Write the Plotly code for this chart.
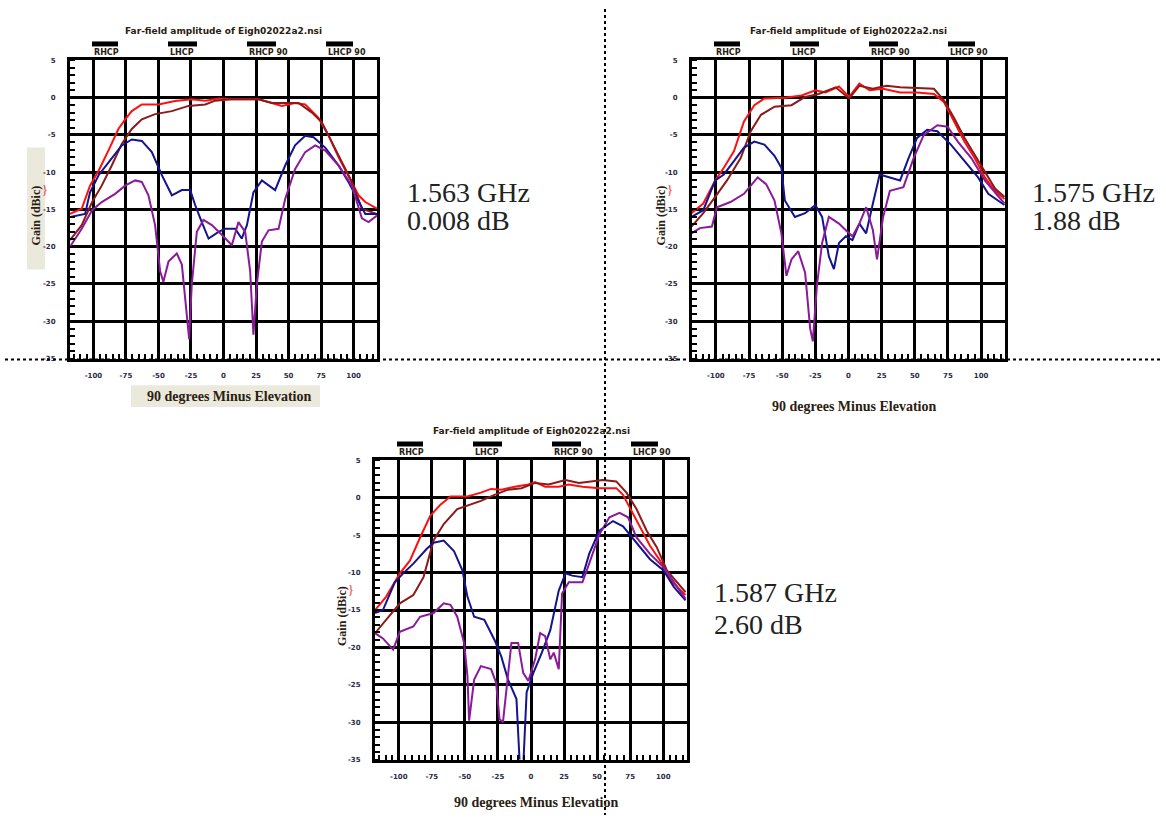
import plotly.graph_objects as go

# ---------------- data ----------------
frequencies = ["1.563 GHz", "1.575 GHz", "1.587 GHz"]
gain_notes = ["0.008 dB", "1.88 dB", "2.60 dB"]
legend_names = ["RHCP", "LHCP", "RHCP 90", "LHCP 90"]
x_tick_vals = [-100, -75, -50, -25, 0, 25, 50, 75, 100]
x_tick_text = ["-100", "-75", "-50", "-25", "0", "25", "50", "75", "100"]
y_tick_vals = [5, 0, -5, -10, -15, -20, -25, -30, -35]
y_tick_text = ["5", "0", "-5", "-10", "-15", "-20", "-25", "-30", "-35"]

# Panel 1 (1.563 GHz)
p1_rhcp_x = [-118, -109, -102.6, -96, -88.5, -80.8, -75.6, -70.5, -62.8, -50, -37.2, -24.4, -14, -3.8, 6.4, 16.7, 26.9, 37.2, 44.9, 55, 62.8, 73, 80.8, 88.5, 96, 103.8, 109, 118]
p1_rhcp_y = [-15.6, -14.9, -11.8, -9.8, -7.1, -4.2, -2.9, -1.8, -0.9, -0.9, -0.44, -0.2, -0.4, -0.1, -0.2, -0.2, -0.2, -0.7, -1.1, -0.7, -0.9, -2.7, -5.1, -8.0, -10.4, -13.1, -14.0, -14.9]
p1_rhcp90_x = [-118, -109, -101, -93.6, -85.9, -78.2, -70.5, -62.8, -52.6, -39.7, -26.9, -14, -6.4, 6.4, 26.9, 37.2, 57.7, 68, 75.6, 83.3, 91, 98.7, 106.4, 118]
p1_rhcp90_y = [-19.1, -17.1, -14.0, -11.8, -9.1, -6.2, -4.2, -2.9, -2.2, -1.8, -1.1, -0.9, -0.4, -0.2, -0.2, -0.7, -0.7, -2.0, -3.3, -6.0, -8.7, -11.3, -14.9, -15.6]
p1_lhcp_x = [-118, -106.4, -102.6, -96, -88.5, -78.2, -70.5, -62.8, -55.1, -47.4, -39.7, -32, -25.6, -21.8, -16.7, -11.5, -3.8, 1.3, 9, 14, 18, 23, 29.5, 39.7, 47.4, 55, 62.8, 69.2, 78.2, 88.5, 96, 103.8, 109, 118]
p1_lhcp_y = [-16.0, -15.6, -12.7, -10.4, -8.7, -6.4, -5.6, -5.8, -7.3, -10.4, -13.1, -12.4, -12.4, -14.4, -16.7, -18.9, -18.0, -17.6, -17.6, -18.9, -17.1, -12.7, -11.1, -12.4, -9.1, -6.4, -5.1, -5.3, -6.7, -9.1, -11.3, -14.0, -15.6, -15.6]
p1_lhcp90_x = [-118, -109, -101, -93.6, -83.3, -75.6, -67.9, -62.8, -57.7, -52.6, -48.7, -46.2, -42.3, -35.9, -32, -28.2, -26.4, -24.4, -20.5, -15.4, -9, -1.3, 6.4, 11.5, 16.7, 20.5, 23, 25.6, 29.5, 34.6, 42.3, 47.4, 55, 62.8, 70.5, 78.2, 88.5, 98.7, 106.4, 111.5, 118]
p1_lhcp90_y = [-20.0, -17.6, -15.1, -14.0, -12.9, -11.8, -11.1, -11.3, -13.1, -17.1, -23.3, -24.7, -22.0, -20.9, -22.4, -29.6, -32.4, -25.1, -18.0, -16.4, -17.1, -18.4, -19.8, -16.7, -18.0, -23.3, -31.8, -25.1, -19.3, -17.8, -17.6, -13.6, -9.6, -7.3, -6.4, -7.1, -9.1, -11.8, -16.2, -16.7, -15.8]

# Panel 2 (1.575 GHz)
p2_rhcp_x = [-118.4, -109.5, -100.5, -94, -86.4, -78.8, -71, -63.4, -48, -35.3, -25, -17.4, -7.2, 0.5, 8.2, 15.9, 26.1, 38.9, 51.7, 64.4, 72.1, 79.8, 87.5, 95.1, 102.8, 110.5, 117.6]
p2_rhcp_y = [-15.5, -14.2, -11.1, -9.4, -7.2, -3.2, -1.0, -0.1, 0.0, 0.3, 1.0, 0.7, 1.5, 0.1, 1.9, 1.0, 1.2, 0.7, 0.7, 0.5, -0.6, -3.2, -5.9, -8.1, -10.7, -12.5, -13.6]
p2_rhcp90_x = [-118.4, -109.5, -100.5, -91.6, -81.3, -73.7, -66, -55.8, -43, -32.7, -22.5, -9.7, 0.5, 8.2, 18.4, 28.6, 38.9, 54.2, 64.4, 72.1, 79.8, 87.5, 95.1, 102.8, 110.5, 117.6]
p2_rhcp90_y = [-17.3, -15.5, -13.3, -11.1, -8.1, -4.5, -2.3, -1.2, -1.0, 0.1, 0.5, 1.4, -0.1, 1.6, 1.2, 1.6, 1.4, 1.3, 1.2, -0.4, -2.8, -5.4, -7.6, -9.8, -12.2, -13.3]
p2_lhcp_x = [-118.4, -109.5, -100.5, -94, -86.4, -78.8, -71, -63.4, -55.8, -50.6, -48, -40.4, -32.7, -25, -19.9, -14.8, -11, -7.2, -2, 3, 8.2, 13.3, 18.4, 23.5, 31.2, 38.9, 45.3, 51.7, 59.3, 67, 77.2, 87.5, 97.7, 105.4, 117.6]
p2_lhcp_y = [-16.0, -15.1, -11.1, -10.3, -8.5, -6.7, -5.9, -6.3, -7.8, -9.4, -13.8, -16.0, -15.5, -14.4, -16.0, -21.3, -23.0, -19.5, -18.6, -19.1, -16.9, -18.2, -14.2, -10.3, -10.7, -11.1, -8.1, -5.4, -4.3, -4.5, -6.3, -8.5, -10.7, -12.9, -14.4]
p2_lhcp90_x = [-118.4, -112, -103, -99.2, -89, -78.8, -68.5, -62.1, -55.8, -50.6, -46.8, -43, -37.9, -32.7, -28.9, -26.9, -23.8, -19.9, -14.8, -7.2, -2, 3, 8.2, 13.3, 18.4, 21.5, 26.1, 31.2, 41.4, 49.1, 56.8, 67, 74.7, 82.4, 92.6, 102.8, 117.6]
p2_lhcp90_y = [-18.2, -17.5, -17.3, -14.7, -14.0, -12.9, -10.7, -11.6, -13.8, -18.2, -23.9, -21.7, -20.6, -23.5, -31.0, -32.7, -25.2, -19.5, -16.0, -16.9, -17.8, -18.6, -16.9, -14.7, -17.8, -21.7, -16.0, -12.5, -12.0, -8.1, -5.0, -3.7, -3.9, -5.9, -8.1, -11.1, -14.2]

# Panel 3 (1.587 GHz)
p3_rhcp_x = [-118, -109.5, -99.2, -91.6, -83.9, -76.2, -68.5, -60.9, -48.1, -37.9, -30.2, -22.5, -12.3, -2, 3.1, 10.7, 21, 28.6, 38.9, 51.7, 64.5, 69.6, 74.7, 82.4, 90, 97.7, 105.4, 116.9]
p3_rhcp_y = [-15.0, -13.2, -10.1, -8.4, -5.3, -2.4, -0.9, 0.2, 0.2, 0.7, 1.2, 1.1, 1.5, 1.8, 2.1, 1.5, 1.5, 1.8, 1.5, 1.3, 1.3, 0.4, -1.3, -3.8, -6.4, -8.4, -11.0, -13.0]
p3_rhcp90_x = [-118, -109.5, -99.2, -89, -81.3, -73.7, -66, -55.8, -45.5, -37.9, -27.6, -17.4, -7.2, 3.1, 13.3, 26.1, 36.3, 46.5, 54.2, 64.5, 72.2, 79.8, 87.5, 95.1, 102.8, 116.9]
p3_rhcp90_y = [-18.1, -16.3, -14.1, -13.0, -10.6, -5.7, -3.5, -1.5, -0.9, -0.4, 0.4, 1.1, 1.3, 2.0, 1.8, 2.4, 2.0, 2.2, 2.4, 2.2, 0.7, -1.5, -4.4, -6.6, -9.7, -12.6]
p3_lhcp_x = [-118, -112, -103, -96.7, -89, -78.8, -73.7, -66, -58.3, -51.9, -48.1, -43, -35.3, -27.6, -22.5, -17.4, -11, -8.4, -5.9, -3.3, 1.8, 8.2, 14.6, 21, 26.1, 31.2, 38.9, 44, 51.7, 62, 69.6, 79.8, 90, 100.3, 108, 116.9]
p3_lhcp_y = [-15.4, -15.0, -11.3, -10.1, -8.8, -6.8, -6.0, -5.7, -7.1, -9.7, -13.2, -15.9, -16.3, -19.0, -21.2, -24.3, -26.9, -36.0, -36.0, -26.0, -23.4, -20.7, -17.7, -12.4, -10.1, -10.4, -10.6, -7.5, -4.4, -3.1, -3.8, -6.0, -8.2, -9.7, -11.9, -13.7]
p3_lhcp90_x = [-118, -112, -104.3, -99.2, -89, -83.9, -73.7, -66, -60.9, -55.8, -50.6, -48.1, -46.8, -43, -37.9, -30.2, -26.4, -23.8, -21.2, -18.7, -14.8, -9.7, -5.9, -2, 3.1, 6.9, 10.7, 14.6, 17.2, 21, 23.5, 28.6, 38.9, 44, 51.7, 59.3, 67, 73.4, 79.8, 90, 100.3, 116.9]
p3_lhcp90_y = [-18.1, -18.8, -20.3, -17.9, -17.2, -15.9, -15.4, -14.1, -14.3, -15.9, -19.4, -23.8, -29.8, -24.3, -22.5, -22.9, -24.7, -29.6, -30.0, -26.0, -19.4, -19.4, -23.4, -24.5, -21.6, -18.1, -18.5, -21.6, -20.7, -22.9, -12.8, -11.3, -11.3, -8.8, -4.9, -2.6, -2.0, -2.6, -5.3, -7.5, -9.3, -13.5]

panel_series = [
    [(p1_rhcp_x, p1_rhcp_y), (p1_rhcp90_x, p1_rhcp90_y), (p1_lhcp_x, p1_lhcp_y), (p1_lhcp90_x, p1_lhcp90_y)],
    [(p2_rhcp_x, p2_rhcp_y), (p2_rhcp90_x, p2_rhcp90_y), (p2_lhcp_x, p2_lhcp_y), (p2_lhcp90_x, p2_lhcp90_y)],
    [(p3_rhcp_x, p3_rhcp_y), (p3_rhcp90_x, p3_rhcp90_y), (p3_lhcp_x, p3_lhcp_y), (p3_lhcp90_x, p3_lhcp90_y)],
]
series_names = ["RHCP", "RHCP 90", "LHCP", "LHCP 90"]
series_colors = ["#ff1010", "#8c1a1a", "#14148f", "#8a1a9a"]

# ---------------- layout helpers ----------------
W, H = 1166, 819
def fx(x):
    return x / W
def fy(y):
    return 1 - y / H

# plot boxes in pixels: left, right, top, bottom
boxes = [(70, 377, 57, 358), (692, 1005, 57, 358), (375, 687, 461, 763)]
freq_pos = [(405, 190, 219), (1030, 190, 219), (712, 594, 627)]
ytitle_x = [36, 661, 342]
xtitle_y = [396, 406, 806]

fig = go.Figure()
layout_axes = {}
annotations = []
shapes = []

tick_font = dict(family="DejaVu Sans", size=7, color="#2b2b45", weight="bold")
small_font = dict(family="DejaVu Sans", size=8, color="#2a2010", weight="bold")

for i, (box, series) in enumerate(zip(boxes, panel_series)):
    L, R, T, B = box
    sfx = "" if i == 0 else str(i + 1)
    xa, ya = "x" + sfx, "y" + sfx
    for (xs, ys), name, col in zip(series, series_names, series_colors):
        fig.add_trace(go.Scatter(x=xs, y=ys, mode="lines", name=name,
                                 line=dict(color=col, width=2),
                                 xaxis=xa, yaxis=ya, showlegend=False,
                                 cliponaxis=True))
    layout_axes["xaxis" + sfx] = dict(
        domain=[fx(L), fx(R)], anchor=ya, range=[-118, 118],
        tickvals=x_tick_vals, ticktext=x_tick_text, tickfont=tick_font,
        showgrid=True, gridcolor="black", gridwidth=2.5, zeroline=False,
        showline=True, linecolor="black", linewidth=3, mirror=True,
        ticks="", ticklabelstandoff=8,
        minor=dict(dtick=5, tick0=0, ticks="inside", ticklen=5, tickcolor="black",
                   tickwidth=1.5, showgrid=False),
        fixedrange=True)
    layout_axes["yaxis" + sfx] = dict(
        domain=[fy(B), fy(T)], anchor=xa, range=[-35, 5],
        tickvals=y_tick_vals, ticktext=y_tick_text, tickfont=tick_font,
        showgrid=True, gridcolor="black", gridwidth=2.5, zeroline=False,
        showline=True, linecolor="black", linewidth=3, mirror=True,
        ticks="", ticklabelstandoff=10,
        minor=dict(dtick=1, tick0=0, ticks="inside", ticklen=5, tickcolor="black",
                   tickwidth=1.5, showgrid=False),
        fixedrange=True)

    xd, yd = xa + " domain", ya + " domain"
    width = R - L
    # title above legend
    annotations.append(dict(text="Far-field amplitude of Eigh02022a2.nsi", xref=xd, yref=yd,
                            x=0.5, y=1, yshift=29, xanchor="center", yanchor="middle", showarrow=False,
                            font=dict(family="DejaVu Sans", size=9, color="#2a2010", weight="bold")))
    # legend bars with labels
    bar_spans = [(22, 48), (98, 127), (177, 206), (256, 283)]
    for (a, b), lab in zip(bar_spans, legend_names):
        shapes.append(dict(type="rect", xref=xd, yref=yd, x0=a / width, x1=b / width,
                           ysizemode="pixel", yanchor=1, y0=14, y1=19,
                           fillcolor="black", line=dict(width=0)))
        annotations.append(dict(text=lab, xref=xd, yref=yd, x=a / width, y=1, yshift=8,
                                xanchor="left", yanchor="middle", showarrow=False,
                                font=small_font))
    # axis titles
    ytx = ytitle_x[i]
    yc = (T + B) / 2
    if i == 0:
        shapes.append(dict(type="rect", xref="paper", yref="paper",
                           x0=fx(27), x1=fx(45), y0=fy(268), y1=fy(145),
                           fillcolor="#ebe8dc", line=dict(width=0), layer="below"))
        shapes.append(dict(type="rect", xref="paper", yref="paper",
                           x0=fx(131), x1=fx(320), y0=fy(407), y1=fy(385),
                           fillcolor="#ebe8dc", line=dict(width=0), layer="below"))
    annotations.append(dict(text="Gain (dBic)", xref="paper", yref="paper",
                            x=fx(ytx), y=fy(yc + 6), textangle=-90, showarrow=False,
                            xanchor="center", yanchor="middle",
                            font=dict(family="Liberation Serif", size=12, color="#2a2010", weight="bold")))
    annotations.append(dict(text="}", xref="paper", yref="paper",
                            x=fx(ytx + 9), y=fy(yc - 20), showarrow=False,
                            xanchor="center", yanchor="middle",
                            font=dict(family="Liberation Serif", size=12, color="#ff2020")))
    annotations.append(dict(text="90 degrees Minus Elevation", xref="paper", yref="paper",
                            x=fx((L + R) / 2 + 5), y=fy(xtitle_y[i]), showarrow=False,
                            xanchor="center", yanchor="middle",
                            font=dict(family="Liberation Serif", size=14, color="#2a2010", weight="bold")))
    # frequency / gain notes
    fxp, fy1, fy2 = freq_pos[i]
    annotations.append(dict(text=frequencies[i], xref="paper", yref="paper", x=fx(fxp), y=fy(fy1),
                            xanchor="left", yanchor="middle", showarrow=False,
                            font=dict(family="Liberation Serif", size=28, color="#222222")))
    annotations.append(dict(text=gain_notes[i], xref="paper", yref="paper", x=fx(fxp), y=fy(fy2),
                            xanchor="left", yanchor="middle", showarrow=False,
                            font=dict(family="Liberation Serif", size=28, color="#222222")))

# dotted divider lines
shapes.append(dict(type="line", xref="paper", yref="paper", x0=fx(5), x1=fx(1162),
                   y0=fy(359), y1=fy(359), line=dict(color="black", width=2, dash="dot")))
shapes.append(dict(type="line", xref="paper", yref="paper", x0=fx(605), x1=fx(605),
                   y0=fy(5), y1=fy(819), line=dict(color="black", width=2, dash="dot")))

fig.update_layout(width=W, height=H, autosize=False,
                  margin=dict(l=0, r=0, t=0, b=0),
                  paper_bgcolor="white", plot_bgcolor="white",
                  annotations=annotations, shapes=shapes, showlegend=False,
                  **layout_axes)

fig.write_html("out.html", config={"displayModeBar": False},
               post_script="document.body.style.margin='0px';document.body.style.overflow='hidden';")
